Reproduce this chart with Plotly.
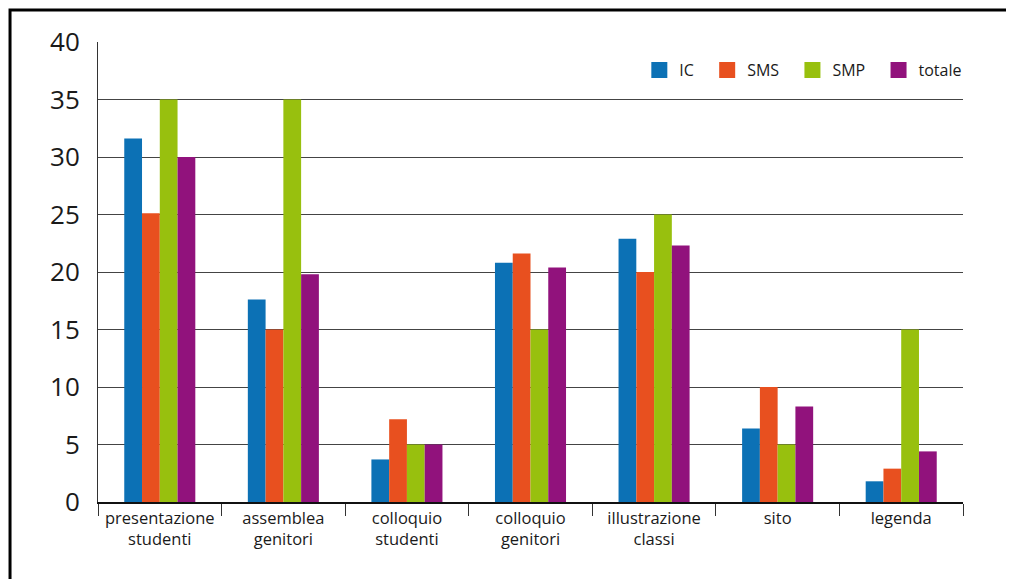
import plotly.graph_objects as go

categories = ["presentazione<br>studenti", "assemblea<br>genitori", "colloquio<br>studenti",
              "colloquio<br>genitori", "illustrazione<br>classi", "sito", "legenda"]
ic = [31.6, 17.6, 3.7, 20.8, 22.9, 6.4, 1.8]
sms = [25.1, 15.0, 7.2, 21.6, 20.0, 10.0, 2.9]
smp = [35.0, 35.0, 5.0, 15.0, 25.0, 5.0, 15.0]
totale = [30.0, 19.8, 5.0, 20.4, 22.3, 8.3, 4.4]
series_names = ["IC", "SMS", "SMP", "totale"]
series_colors = ["#0C71B5", "#E8501F", "#98C00E", "#91127C"]
series_values = [ic, sms, smp, totale]

NB = "\u00a0"
legend_pad = [NB * 2, NB * 2, NB * 2, ""]

fig = go.Figure()
for name, vals, col in zip(series_names, series_values, series_colors):
    fig.add_trace(go.Bar(x=categories, y=vals, name=name, marker=dict(color=col, line=dict(width=0)),
                         showlegend=False))
for name, col, pad in zip(series_names, series_colors, legend_pad):
    fig.add_trace(go.Scatter(x=[None], y=[None], mode="markers", name=name + pad,
                             marker=dict(symbol="square", size=16, color=col)))

font = "Open Sans, sans-serif"
fig.update_layout(
    width=1006, height=571,
    margin=dict(l=90, r=51, t=34, b=77),
    paper_bgcolor="white", plot_bgcolor="white",
    barmode="group", bargap=0.425, bargroupgap=0,
    font=dict(family=font, color="#1a1a1a"),
    legend=dict(orientation="h", x=1.005, xanchor="right", y=0.939, yanchor="middle",
                font=dict(size=16, family=font, color="#1a1a1a"),
                bgcolor="rgba(0,0,0,0)", itemwidth=30, traceorder="normal"),
    xaxis=dict(showgrid=False, showline=True, linecolor="#111", linewidth=1.5,
               ticks="outside", tickson="boundaries", ticklen=12, tickcolor="#333", tickwidth=1,
               tickfont=dict(size=16.5, family=font, color="#1a1a1a")),
    yaxis=dict(range=[0, 40], dtick=5, showgrid=True, gridcolor="#444", gridwidth=1,
               showline=True, linecolor="#333", linewidth=1, zeroline=False,
               ticks="", ticklabelstandoff=12,
               tickfont=dict(size=26, family=font, color="#1a1a1a")),
    shapes=[dict(type="rect", xref="paper", yref="paper",
                 x0=-0.1017, x1=1.3, y0=-0.4, y1=1.0696,
                 line=dict(color="black", width=3), fillcolor="rgba(0,0,0,0)", layer="below")],
)

fig.write_html("out.html")
